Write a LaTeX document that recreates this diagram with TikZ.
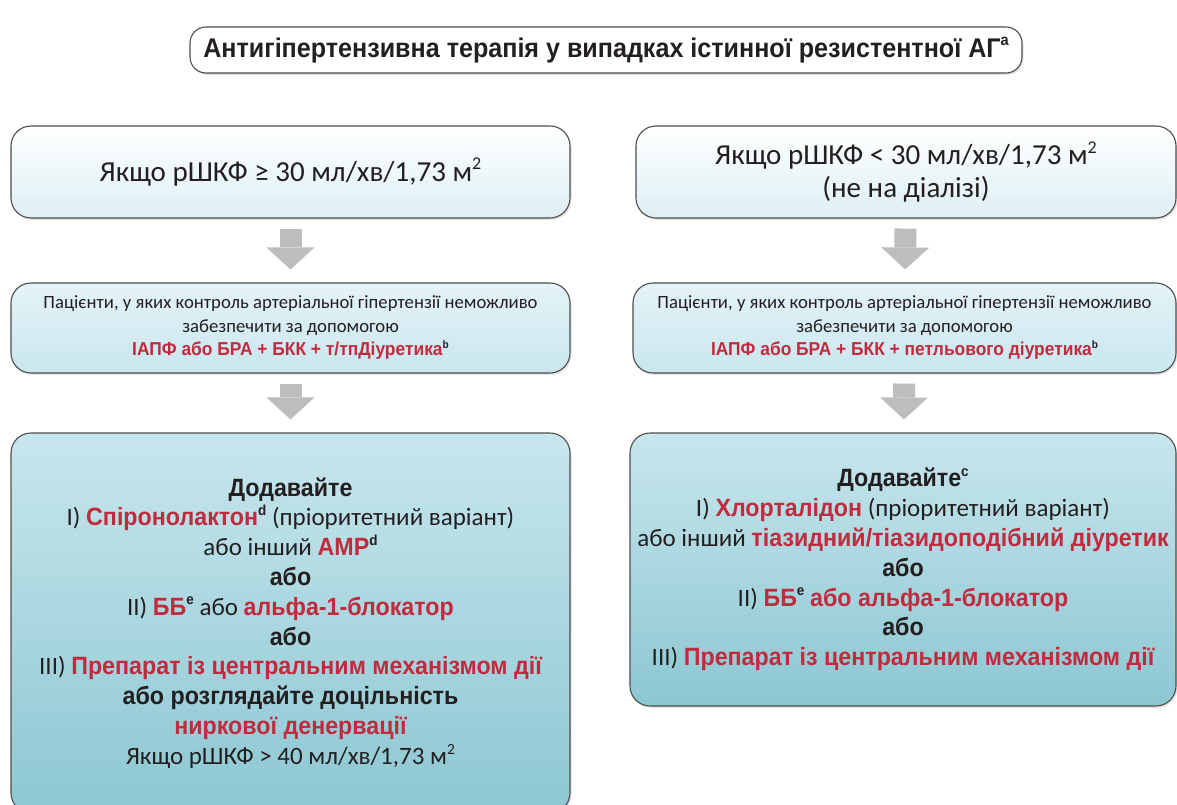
\documentclass[tikz,border=0pt]{standalone}
\usepackage{fontspec}
\usepackage{graphicx}
\setmainfont{Carlito}
\newfontfamily\arialb[FakeStretch=0.93]{Liberation Sans}
\usetikzlibrary{arrows.meta,shadows}

\definecolor{redtxt}{HTML}{C22A3D}
\definecolor{inktxt}{HTML}{231F20}
\definecolor{boxline}{HTML}{4D4D4D}
\definecolor{arrowgray}{HTML}{BDBDBD}
\definecolor{gfrlow}{HTML}{DDEFF5}
\definecolor{ctltop}{HTML}{E4F3F8}
\definecolor{ctllow}{HTML}{C9E6EE}
\definecolor{addtop}{HTML}{C8E6ED}
\definecolor{addlow}{HTML}{8CC7D2}

\newcommand{\redb}[1]{{\color{redtxt}\arialb\bfseries #1}}
\newcommand{\blkb}[1]{{\arialb\bfseries #1}}
\newcommand{\supb}[1]{\raisebox{.42em}{\scalebox{.58}{\arialb\bfseries #1}}}
\newcommand{\supn}[1]{\raisebox{.4em}{\scalebox{.62}{#1}}}

\begin{document}
\begin{tikzpicture}[x=1pt,y=-1pt,text=inktxt,
    box/.style={draw=boxline,line width=1.1pt,rounded corners=20pt,align=center,inner sep=0pt,
      drop shadow={shadow xshift=1.5pt,shadow yshift=-2pt,opacity=.2}},
    ttlbox/.style={box,rounded corners=16pt,fill=white,font=\arialb\bfseries\fontsize{27}{31}\selectfont},
    gfrbox/.style={box,top color=white,bottom color=gfrlow,font=\fontsize{29}{33}\selectfont},
    ctlbox/.style={box,top color=ctltop,bottom color=ctllow,font=\fontsize{18.7}{23.5}\selectfont},
    addbox/.style={box,top color=addtop,bottom color=addlow,font=\fontsize{25}{29.8}\selectfont},
    blockarrow/.style={draw=arrowgray,line width=22pt,
      -{Triangle[line width=0pt,width=48pt,length=22pt]},shorten <=10pt,shorten >=13pt}
  ]
  \useasboundingbox (0,0) rectangle (1177,805);

  \node[ttlbox,minimum width=832,minimum height=46] (title) at (606,50)
    {Антигіпертензивна терапія у випадках істинної резистентної АГ\supb{a}};

  % left branch
  \node[gfrbox,minimum width=559,minimum height=92] (gfrL) at (290.5,172)
    {Якщо рШКФ ≥ 30 мл/хв/1,73 м\supn{2}};
  \node[ctlbox,minimum width=559,minimum height=90] (ctlL) at (290.5,328)
    {Пацієнти, у яких контроль артеріальної гіпертензії неможливо\\
     забезпечити за допомогою\\
     \redb{ІАПФ або БРА + БКК + т/тпДіуретика}\supb{b}};
  \node[addbox,minimum width=559,minimum height=380] (addL) at (290.5,623)
    {\blkb{Додавайте}\\
     I) \redb{Спіронолактон}\supb{d} (пріоритетний варіант)\\
     або інший \redb{АМР}\supb{d}\\
     \blkb{або}\\
     II) \redb{ББ}\supb{e} або \redb{альфа-1-блокатор}\\
     \blkb{або}\\
     III) \redb{Препарат із центральним механізмом дії}\\
     \blkb{або розглядайте доцільність}\\
     \redb{ниркової денервації}\\
     Якщо рШКФ > 40 мл/хв/1,73 м\supn{2}};

  % right branch
  \node[gfrbox,minimum width=540,minimum height=92] (gfrR) at (906,172)
    {Якщо рШКФ < 30 мл/хв/1,73 м\supn{2}\\
     (не на діалізі)};
  \node[ctlbox,minimum width=543,minimum height=90] (ctlR) at (904.5,328)
    {Пацієнти, у яких контроль артеріальної гіпертензії неможливо\\
     забезпечити за допомогою\\
     \redb{ІАПФ або БРА + БКК + петльового діуретика}\supb{b}};
  \node[addbox,minimum width=546,minimum height=273] (addR) at (903,569.5)
    {\blkb{Додавайте}\supb{c}\\
     I) \redb{Хлорталідон} (пріоритетний варіант)\\
     або інший \redb{тіазидний/тіазидоподібний діуретик}\\
     \blkb{або}\\
     II) \redb{ББ}\supb{e} \redb{або альфа-1-блокатор}\\
     \blkb{або}\\
     III) \redb{Препарат із центральним механізмом дії}};

  \draw[blockarrow] (gfrL) -- (ctlL);
  \draw[blockarrow] (ctlL) -- (addL);
  \draw[blockarrow] (gfrR) -- (ctlR);
  \draw[blockarrow] (ctlR) -- (addR);
\end{tikzpicture}
\end{document}
